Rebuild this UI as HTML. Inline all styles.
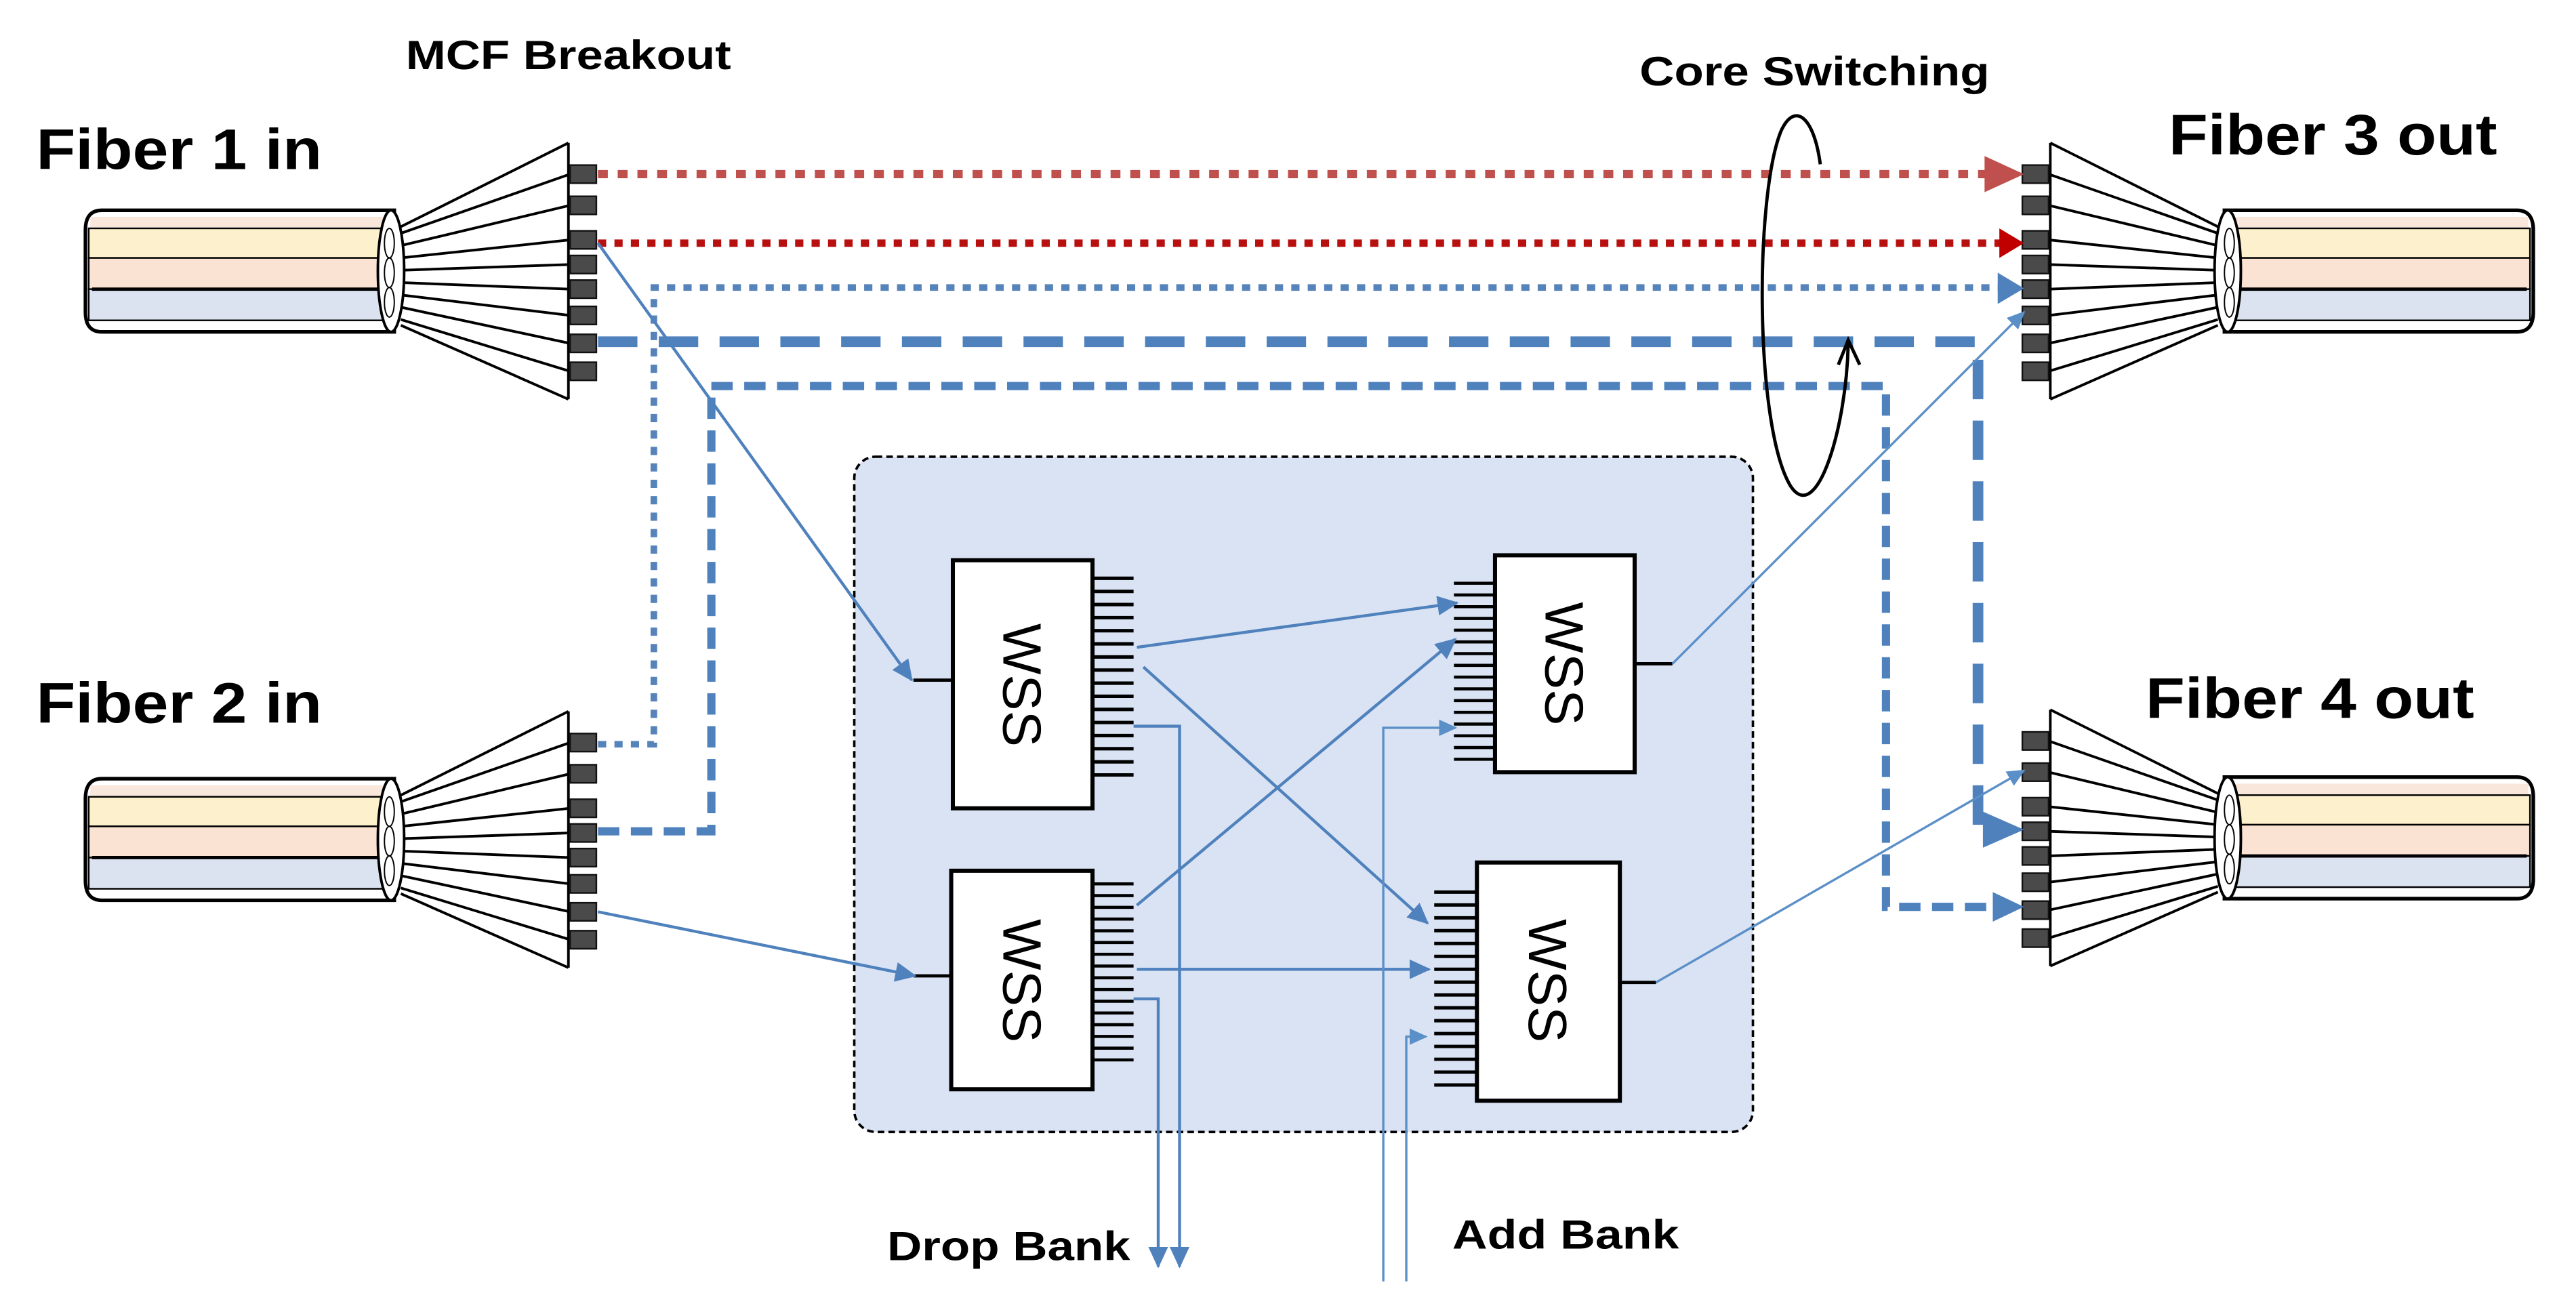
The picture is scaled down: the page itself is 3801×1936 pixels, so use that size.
<!DOCTYPE html>
<html><head><meta charset="utf-8"><style>
html,body{margin:0;padding:0;background:#fff}
svg{display:block}
text{font-family:"Liberation Sans",Arial,sans-serif}
</style></head><body>
<svg width="3801" height="1936" viewBox="0 0 1568 798.6" preserveAspectRatio="none" xmlns="http://www.w3.org/2000/svg">
<defs>
<marker id="a" markerUnits="userSpaceOnUse" markerWidth="13" markerHeight="12" refX="12" refY="6" orient="auto"><path d="M0,0 L13,6 L0,12 z" fill="#4f81bd"/></marker>
<marker id="s" markerUnits="userSpaceOnUse" markerWidth="11" markerHeight="10" refX="10" refY="5" orient="auto"><path d="M0,0 L11,5 L0,10 z" fill="#5b8fc8"/></marker>
<g id="fib">
  <!-- fan -->
  <g stroke="#000" stroke-width="1.6" fill="none">
    <path d="M346,87 L244,138 M346,243 L244,198 M346,87 V243"/>
    <path d="M244,142 L347,106 M244,149.5 L347,125 M244,157 L347,146 M244,164.5 L347,161 M244,172 L347,176 M244,179.5 L347,192 M244,187 L347,209 M244,194.5 L347,226"/>
  </g>
  <g fill="#4a4a4a" stroke="#111" stroke-width="1">
    <rect x="347" y="100.5" width="16" height="11"/><rect x="347" y="119.5" width="16" height="11"/>
    <rect x="347" y="140.5" width="16" height="11"/><rect x="347" y="155.5" width="16" height="11"/>
    <rect x="347" y="170.5" width="16" height="11"/><rect x="347" y="186.5" width="16" height="11"/>
    <rect x="347" y="203.5" width="16" height="11"/><rect x="347" y="220.5" width="16" height="11"/>
  </g>
  <!-- cable -->
  <path d="M62,128 H240 V202 H62 Q52,202 52,190 V140 Q52,128 62,128 z" fill="#fff" stroke="#000" stroke-width="2.2"/>
  <rect x="55" y="132" width="183" height="7" fill="#fae7dc"/>
  <rect x="54" y="139" width="186" height="18" fill="#fdf0cd" stroke="#000" stroke-width="1"/>
  <rect x="54" y="157" width="186" height="19" fill="#fae3d3" stroke="#000" stroke-width="1"/>
  <rect x="54" y="176" width="186" height="19" fill="#dbe3f1" stroke="#000" stroke-width="1"/>
  <line x1="56" y1="176" x2="240" y2="176" stroke="#000" stroke-width="2"/>
  <ellipse cx="238" cy="165" rx="8" ry="37" fill="#fff" stroke="#000" stroke-width="1.6"/>
  <ellipse cx="237" cy="148" rx="3" ry="9" fill="none" stroke="#000" stroke-width="0.8"/>
  <ellipse cx="237" cy="166" rx="3" ry="9" fill="none" stroke="#000" stroke-width="0.8"/>
  <ellipse cx="237" cy="184" rx="3" ry="9" fill="none" stroke="#000" stroke-width="0.8"/>
</g>
<g id="comb16" stroke="#000" stroke-width="2">
  <path d="M0,0h25M0,7.6h25M0,15.2h25M0,22.8h25M0,30.4h25M0,38h25M0,45.6h25M0,53.2h25M0,60.8h25M0,68.4h25M0,76h25M0,83.6h25M0,91.2h25M0,98.8h25M0,106.4h25M0,114h25"/>
</g>
</defs>

<!-- switching box -->
<rect x="520" y="278" width="547" height="411" rx="13" fill="#dae3f3" stroke="#000" stroke-width="1.5" stroke-dasharray="4,2.5"/>

<!-- fibers -->
<use href="#fib"/>
<use href="#fib" transform="translate(0,346)"/>
<use href="#fib" transform="translate(1594,0) scale(-1,1)"/>
<use href="#fib" transform="translate(1594,345) scale(-1,1)"/>

<!-- red dotted -->
<line x1="364" y1="106" x2="1210" y2="106" stroke="#c0504d" stroke-width="5" stroke-dasharray="6,6"/>
<polygon points="1208,95 1208,117 1232,106" fill="#c0504d"/>
<line x1="364" y1="148" x2="1220" y2="148" stroke="#b80f0f" stroke-width="4.5" stroke-dasharray="5,5"/>
<polygon points="1217,139 1217,157 1232,148" fill="#c00000"/>
<!-- blue dotted -->
<path d="M364,453 H398 V175 H1218" fill="none" stroke="#5683ba" stroke-width="4" stroke-dasharray="5,5"/>
<polygon points="1216,166 1216,185 1232,175.5" fill="#4f81bd"/>
<!-- thick dashed -->
<path d="M364,208 H1204 V505 H1210" fill="none" stroke="#4f81bd" stroke-width="6.5" stroke-dasharray="24,13"/>
<polygon points="1207,494 1207,516 1232,505" fill="#4f81bd"/>
<!-- medium dashed -->
<path d="M364,506 H433 V235 H1148 V552 H1214" fill="none" stroke="#4f81bd" stroke-width="5" stroke-dasharray="13,7"/>
<polygon points="1213,543 1213,561 1232,552" fill="#4f81bd"/>

<!-- core switching loop -->
<path d="M1108,100 C1104,70 1092,62 1084,80 C1068,120 1068,260 1090,296 C1106,320 1124,260 1125,209" fill="none" stroke="#000" stroke-width="2"/>
<path d="M1119,222 L1125,207 L1132,222" fill="none" stroke="#000" stroke-width="2"/>

<!-- WSS boxes -->
<g stroke="#000" stroke-width="2.5" fill="#fff">
  <rect x="580" y="341" width="85" height="151"/>
  <rect x="579" y="530" width="86" height="133"/>
  <rect x="910" y="338" width="85" height="132"/>
  <rect x="899" y="525" width="87" height="145"/>
</g>
<g stroke="#000" stroke-width="2">
  <line x1="556" y1="414" x2="580" y2="414"/>
  <line x1="556" y1="594" x2="579" y2="594"/>
  <line x1="995" y1="404" x2="1018" y2="404"/>
  <line x1="986" y1="598" x2="1008" y2="598"/>
</g>
<use href="#comb16" transform="translate(665,352) scale(1,1.05)"/>
<use href="#comb16" transform="translate(665,538) scale(1,0.94)"/>
<use href="#comb16" transform="translate(885,355) scale(1,0.94)"/>
<use href="#comb16" transform="translate(873,543) scale(1,1.03)"/>
<g font-size="33" fill="#000">
  <text transform="translate(622,417) rotate(90)" text-anchor="middle" dominant-baseline="central">WSS</text>
  <text transform="translate(622,597) rotate(90)" text-anchor="middle" dominant-baseline="central">WSS</text>
  <text transform="translate(952,404) rotate(90)" text-anchor="middle" dominant-baseline="central">WSS</text>
  <text transform="translate(942,597) rotate(90)" text-anchor="middle" dominant-baseline="central">WSS</text>
</g>

<!-- thin blue connectors -->
<g stroke="#4f81bd" stroke-width="1.8" fill="none">
  <line x1="364" y1="148" x2="555" y2="414" marker-end="url(#a)"/>
  <line x1="364" y1="555" x2="557" y2="594" marker-end="url(#a)"/>
  <line x1="692" y1="394" x2="887" y2="367" marker-end="url(#a)"/>
  <line x1="696" y1="406" x2="869" y2="562" marker-end="url(#a)"/>
  <line x1="692" y1="551" x2="886" y2="389" marker-end="url(#a)"/>
  <line x1="692" y1="590" x2="870" y2="590" marker-end="url(#a)"/>
  <path d="M690,442 H718 V771" marker-end="url(#a)"/>
  <path d="M690,608 H705 V771" marker-end="url(#a)"/>
</g>
<g stroke="#5b8fc8" stroke-width="1.4" fill="none">
  <path d="M842,780 V443 H886" marker-end="url(#s)"/>
  <path d="M856,780 V631 H868" marker-end="url(#s)"/>
  <line x1="1018" y1="404" x2="1232" y2="190" marker-end="url(#s)"/>
  <line x1="1008" y1="598" x2="1232" y2="469" marker-end="url(#s)"/>
</g>

<!-- labels -->
<g font-weight="bold" fill="#000">
  <text x="247" y="42" font-size="25" textLength="198" lengthAdjust="spacingAndGlyphs">MCF Breakout</text>
  <text x="22" y="103" font-size="35" textLength="174" lengthAdjust="spacingAndGlyphs">Fiber 1 in</text>
  <text x="22" y="440" font-size="35" textLength="174" lengthAdjust="spacingAndGlyphs">Fiber 2 in</text>
  <text x="998" y="52" font-size="25" textLength="213" lengthAdjust="spacingAndGlyphs">Core Switching</text>
  <text x="1320" y="94" font-size="35" textLength="200" lengthAdjust="spacingAndGlyphs">Fiber 3 out</text>
  <text x="1306" y="437" font-size="35" textLength="200" lengthAdjust="spacingAndGlyphs">Fiber 4 out</text>
  <text x="540" y="767" font-size="25" textLength="148" lengthAdjust="spacingAndGlyphs">Drop Bank</text>
  <text x="884" y="760" font-size="25" textLength="138" lengthAdjust="spacingAndGlyphs">Add Bank</text>
</g>
</svg>
</body></html>
